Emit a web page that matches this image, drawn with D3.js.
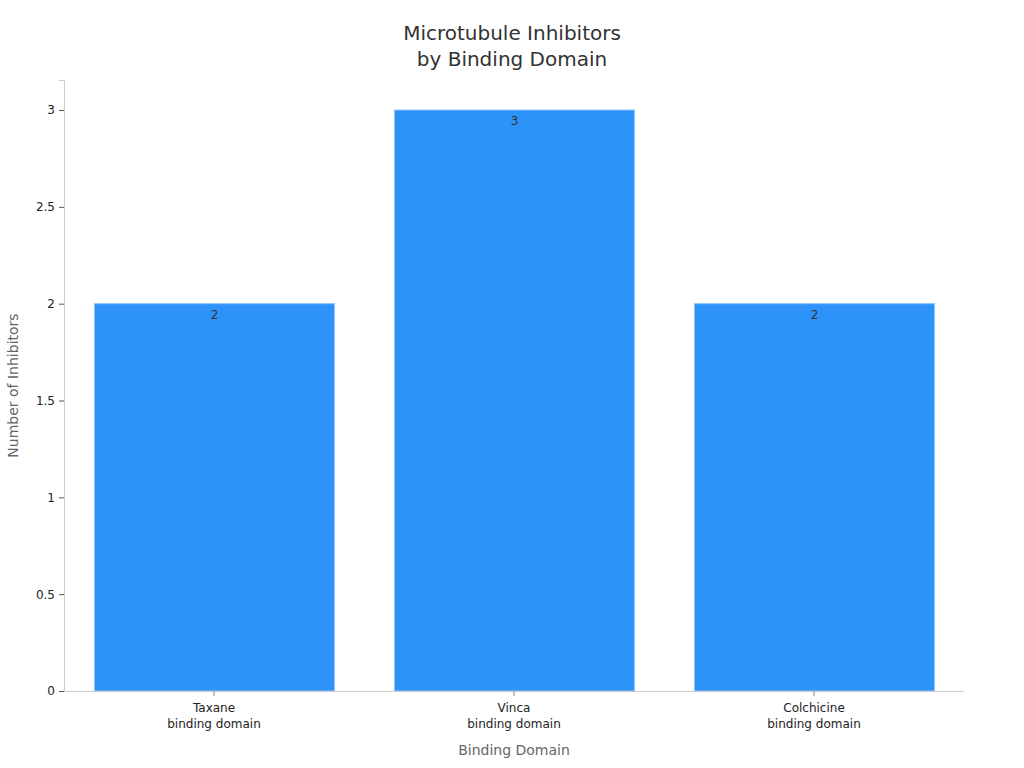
<!DOCTYPE html>
<html>
<head>
<meta charset="utf-8">
<script src="https://cdn.jsdelivr.net/npm/d3@7"></script>
<style>
  body { margin: 0; background: #fff; }
  svg { font-family: 'DejaVu Sans', sans-serif; }
</style>
</head>
<body>
<div id="chart"></div>
<script>
const categories = ['Taxane\nbinding domain', 'Vinca\nbinding domain', 'Colchicine\nbinding domain'];
const counts = [2, 3, 2];
const yTicks = [0, 0.5, 1, 1.5, 2, 2.5, 3];

const width = 1024;
const height = 768;
const margin = { top: 80, right: 60, bottom: 77, left: 64 };
const barBlue = '#2E93F8';
const fontFamily = "'DejaVu Sans', sans-serif";

const svg = d3.select('#chart')
  .append('svg')
  .attr('width', width)
  .attr('height', height);

const xScale = d3.scaleBand()
  .domain(categories)
  .range([margin.left, width - margin.right])
  .paddingInner(0.2)
  .paddingOuter(0.1);

const yScale = d3.scaleLinear()
  .domain([0, 3.155])
  .range([height - margin.bottom, margin.top]);

// bars
svg.append('g')
  .selectAll('rect')
  .data(counts)
  .enter()
  .append('rect')
  .attr('x', (d, i) => xScale(categories[i]) + 0.5)
  .attr('y', (d) => yScale(d))
  .attr('width', xScale.bandwidth())
  .attr('height', (d) => yScale(0) - yScale(d))
  .attr('fill', barBlue)
  .attr('stroke', '#8cc4fb')
  .attr('stroke-width', 1);

// value labels
svg.append('g')
  .selectAll('text')
  .data(counts)
  .enter()
  .append('text')
  .attr('x', (d, i) => xScale(categories[i]) + xScale.bandwidth() / 2 + 0.5)
  .attr('y', (d) => yScale(d) + 15)
  .attr('text-anchor', 'middle')
  .style('font-size', '12px')
  .attr('fill', '#333')
  .text((d) => d);

// axes
const yAxis = d3.axisLeft(yScale)
  .tickValues(yTicks)
  .tickSize(5)
  .tickPadding(4)
  .tickFormat((d) => `${d}`);

const yG = svg.append('g')
  .attr('transform', `translate(${margin.left} 0)`)
  .call(yAxis);
yG.attr('font-family', fontFamily);
yG.select('.domain').attr('stroke', '#ccc');
yG.selectAll('.tick line').attr('stroke', '#555');
yG.selectAll('.tick text').style('font-size', '12px').attr('fill', '#222');

const xAxis = d3.axisBottom(xScale).tickSize(5).tickFormat('');
const xG = svg.append('g')
  .attr('transform', `translate(0 ${height - margin.bottom})`)
  .call(xAxis);
xG.attr('font-family', fontFamily);
xG.select('.domain').attr('stroke', '#ccc').attr('d', `M${margin.left},0.5H${width - margin.right - 0.5}`);
xG.selectAll('.tick line').attr('stroke', '#888');

xG.selectAll('.tick')
  .append('text')
  .attr('fill', '#222')
  .attr('text-anchor', 'middle')
  .style('font-size', '12px')
  .each(function (d) {
    const lines = d.split('\n');
    d3.select(this).selectAll('tspan')
      .data(lines)
      .enter()
      .append('tspan')
      .attr('x', 0)
      .attr('y', (l, i) => 21 + i * 16)
      .text((l) => l);
  });

// axis titles
svg.append('text')
  .attr('x', (margin.left + width - margin.right) / 2)
  .attr('y', 755)
  .attr('text-anchor', 'middle')
  .style('font-size', '14px')
  .attr('fill', '#666')
  .text('Binding Domain');

svg.append('text')
  .attr('transform', `translate(18 ${(margin.top + height - margin.bottom) / 2}) rotate(-90)`)
  .attr('text-anchor', 'middle')
  .style('font-size', '14px')
  .attr('fill', '#666')
  .text('Number of Inhibitors');

// title
const title = svg.append('text')
  .attr('text-anchor', 'middle')
  .style('font-size', '20px')
  .attr('fill', '#333');
title.append('tspan').attr('x', 512).attr('y', 40).text('Microtubule Inhibitors');
title.append('tspan').attr('x', 512).attr('y', 66).text('by Binding Domain');
</script>
</body>
</html>
